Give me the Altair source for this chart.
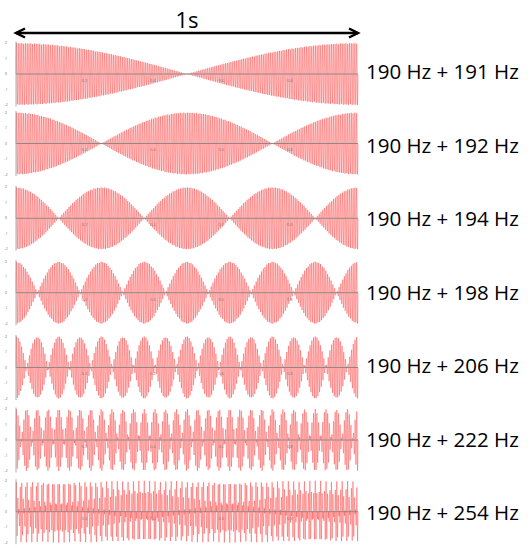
import numpy as np
import pandas as pd
import altair as alt

alt.data_transformers.disable_max_rows()

# ---- data ----
BASE_HZ = 190
SECOND_HZ = [191, 192, 194, 198, 206, 222, 254]
LABELS = [f"{BASE_HZ} Hz + {f} Hz" for f in SECOND_HZ]
Y_TICK_VALUES = [2, 1, 0, -1, -2]
X_TICK_LABELS = [0.2, 0.4, 0.6, 0.8]
DURATION_LABEL = "1s"
N_SAMPLES = 2401

# ---- layout (pixels) ----
W, H = 532, 548
X0_PX, X1_PX = 16, 358          # where t=0 and t=1 fall
K = 15.5                        # pixels per amplitude unit
PANEL_PX = [74, 143.5, 218.3, 292.7, 367.5, 440, 511.7]
LABEL_PX = [73 + 73.5 * i for i in range(len(SECOND_HZ))]
ARROW_PX = 33
TITLE_PX = 21
LABEL_X_PX = 366
YLAB_X_PX = 6

span = X1_PX - X0_PX
def tx(px):
    return (px - X0_PX) / span
def vy(px):
    return -px / K

xscale = alt.Scale(domain=[tx(0), tx(W)], nice=False, zero=False)
yscale = alt.Scale(domain=[vy(H), 0], nice=False, zero=False)

# ---- waveforms ----
t = np.linspace(0, 1, N_SAMPLES)
rows = []
for i, f2 in enumerate(SECOND_HZ):
    s = np.sin(2 * np.pi * BASE_HZ * t) + np.sin(2 * np.pi * f2 * t)
    off = vy(PANEL_PX[i])
    rows.append(pd.DataFrame({"t": np.round(t, 5), "v": np.round(s + off, 4), "panel": i}))
wave = pd.concat(rows, ignore_index=True)

# ---- axes helpers ----
zero_df = pd.DataFrame({"t0": [0.0] * 7, "t1": [1.0] * 7,
                        "v": [vy(p) for p in PANEL_PX]})
yaxis_df = pd.DataFrame({"t": [0.0] * 7,
                         "v0": [vy(p) - 2.1 for p in PANEL_PX],
                         "v1": [vy(p) + 2.1 for p in PANEL_PX]})
ylab_df = pd.DataFrame([{"t": tx(YLAB_X_PX), "v": vy(p) + yv, "txt": str(yv)}
                        for p in PANEL_PX for yv in Y_TICK_VALUES])
xlab_df = pd.DataFrame([{"t": xv, "v": vy(p) - 0.45, "txt": str(xv)}
                        for p in PANEL_PX for xv in X_TICK_LABELS])
label_df = pd.DataFrame({"t": [tx(LABEL_X_PX)] * 7,
                         "v": [vy(p) for p in LABEL_PX], "txt": LABELS})
arrow_df = pd.DataFrame({"t0": [0.0], "t1": [1.0], "v": [vy(ARROW_PX)]})
head_df = pd.DataFrame({"t": [tx(X0_PX + 4.5), tx(X1_PX - 4.5)],
                        "v": [vy(ARROW_PX)] * 2, "side": ["l", "r"]})
title_df = pd.DataFrame({"t": [0.5], "v": [vy(TITLE_PX)], "txt": [DURATION_LABEL]})

X = lambda f: alt.X(f, type="quantitative", scale=xscale, axis=None)
Y = lambda f: alt.Y(f, type="quantitative", scale=yscale, axis=None)

lines = alt.Chart(wave).mark_line(color="#ff1f1f", strokeWidth=0.55, opacity=0.7).encode(
    x=X("t"), y=Y("v"), detail="panel:N")

zeros = alt.Chart(zero_df).mark_rule(color="#8a8a8a", strokeWidth=1).encode(
    x=X("t0"), x2="t1", y=Y("v"))
yaxes = alt.Chart(yaxis_df).mark_rule(color="#999999", strokeWidth=0.8).encode(
    x=X("t"), y=Y("v0"), y2="v1")
ylabs = alt.Chart(ylab_df).mark_text(fontSize=4, color="#777777", align="center",
                                     baseline="middle", font="Open Sans").encode(
    x=X("t"), y=Y("v"), text="txt:N")
xlabs = alt.Chart(xlab_df).mark_text(fontSize=4, color="#777777", align="center",
                                     baseline="middle", font="Open Sans").encode(
    x=X("t"), y=Y("v"), text="txt:N")
labels = alt.Chart(label_df).mark_text(fontSize=20.5, color="black", align="left",
                                       baseline="middle", font="Open Sans").encode(
    x=X("t"), y=Y("v"), text="txt:N")
arrow = alt.Chart(arrow_df).mark_rule(color="black", strokeWidth=2.5).encode(
    x=X("t0"), x2="t1", y=Y("v"))
heads_l = alt.Chart(head_df[head_df.side == "l"]).mark_point(
    shape="M1,-1L-1,0L1,1", size=81, filled=False, stroke="black", strokeWidth=2.5,
    opacity=1).encode(x=X("t"), y=Y("v"))
heads_r = alt.Chart(head_df[head_df.side == "r"]).mark_point(
    shape="M-1,-1L1,0L-1,1", size=81, filled=False, stroke="black", strokeWidth=2.5,
    opacity=1).encode(x=X("t"), y=Y("v"))
title = alt.Chart(title_df).mark_text(fontSize=22, color="black", align="center",
                                      baseline="middle", font="Open Sans").encode(
    x=X("t"), y=Y("v"), text="txt:N")

chart = alt.layer(lines, zeros, yaxes, ylabs, xlabs, labels, arrow, heads_l, heads_r, title).properties(
    width=W, height=H, padding=0,
    autosize=alt.AutoSizeParams(type="none"),
).configure_view(stroke=None)

chart.save("out.html", embed_options={"renderer": "svg", "actions": False})
